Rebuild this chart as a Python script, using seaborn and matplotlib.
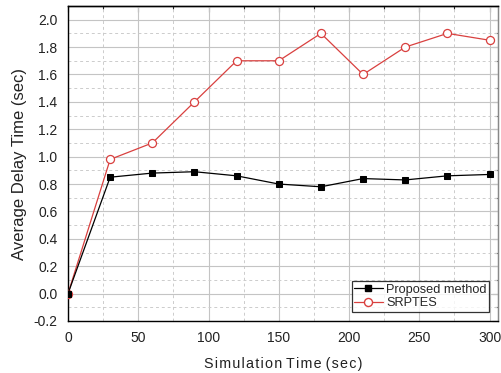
import numpy as np
import pandas as pd
import matplotlib
matplotlib.use("Agg")
import matplotlib.pyplot as plt
import seaborn as sns
from matplotlib.ticker import MultipleLocator

time_sec = [0, 30, 60, 90, 120, 150, 180, 210, 240, 270, 300]
proposed = [0.0, 0.85, 0.88, 0.89, 0.86, 0.80, 0.78, 0.84, 0.83, 0.86, 0.87]
srptes = [0.0, 0.98, 1.10, 1.40, 1.70, 1.70, 1.90, 1.60, 1.80, 1.90, 1.85]
series_names = ["Proposed method", "SRPTES"]

df = pd.concat([
    pd.DataFrame({"t": time_sec, "v": proposed, "s": series_names[0]}),
    pd.DataFrame({"t": time_sec, "v": srptes, "s": series_names[1]}),
])

sns.set_style("white")
plt.rcParams["font.family"] = ["Liberation Sans", "DejaVu Sans"]

fig = plt.figure(figsize=(5.02, 3.73), dpi=100)
ax = fig.add_axes([68/502, 1-321/373, (498-68)/502, (321-6)/373])

red = "#d9403f"
sns.lineplot(data=df, x="t", y="v", hue="s", style="s",
             palette={series_names[0]: "black", series_names[1]: red},
             markers={series_names[0]: "s", series_names[1]: "o"},
             dashes=False, linewidth=0.9, ax=ax, legend=False)
lines = ax.get_lines()
lines[0].set_markerfacecolor("black"); lines[0].set_markeredgecolor("black")
lines[0].set_markersize(4.8)
lines[1].set_markerfacecolor("white"); lines[1].set_markeredgecolor(red)
lines[1].set_markeredgewidth(0.9); lines[1].set_markersize(5.8)
lines[1].set_zorder(3); lines[0].set_zorder(4)

ax.set_xlim(0, 306)
ax.set_ylim(-0.2, 2.1)
ax.xaxis.set_major_locator(MultipleLocator(50))
ax.xaxis.set_minor_locator(MultipleLocator(25))
ax.yaxis.set_major_locator(MultipleLocator(0.2))
ax.yaxis.set_minor_locator(MultipleLocator(0.1))
ax.yaxis.set_major_formatter(matplotlib.ticker.FormatStrFormatter("%.1f"))

ax.grid(which="major", color="#c4c4c4", linestyle="-", linewidth=0.8)
ax.grid(which="minor", color="#cccccc", linestyle=(0, (3, 3)), linewidth=0.7)
ax.set_axisbelow(True)

for sp in ax.spines.values():
    sp.set_color("black"); sp.set_linewidth(1.0)
ax.spines["right"].set_color("#888888")
ax.tick_params(which="both", direction="out", color="black", width=0.8,
               labelsize=10, colors="#222222")
ax.tick_params(which="major", length=4)
ax.tick_params(which="minor", length=2.5)

ax_top = ax.secondary_xaxis("top")
ax_top.xaxis.set_major_locator(MultipleLocator(50))
ax_top.xaxis.set_minor_locator(MultipleLocator(25))
ax_top.tick_params(which="both", direction="in", labeltop=False, width=0.8)
ax_top.tick_params(which="major", length=4)
ax_top.tick_params(which="minor", length=2.5)
ax_top.spines["top"].set_linewidth(1.0)
ax_right = ax.secondary_yaxis("right")
ax_right.yaxis.set_major_locator(MultipleLocator(0.2))
ax_right.yaxis.set_minor_locator(MultipleLocator(0.1))
ax_right.tick_params(which="both", direction="in", labelright=False, width=0.8, color="#666666")
ax_right.tick_params(which="major", length=4)
ax_right.tick_params(which="minor", length=2.5)
ax_right.spines["right"].set_color("#888888")

ax.set_xlabel("S i m u l a t i o n  T i m e  ( s e c )".replace("  ", "\u2002").replace(" ", "\u200a").replace("\u2002", " "),
              fontsize=10.3, labelpad=8, color="#222222")
ax.set_ylabel("Average Delay Time (sec)", fontsize=12, labelpad=5, color="#222222")

from matplotlib.lines import Line2D
handles = [Line2D([], [], color="black", marker="s", markersize=4.8, linewidth=0.9),
           Line2D([], [], color=red, marker="o", markersize=5.8, markerfacecolor="white",
                  markeredgecolor=red, linewidth=0.9)]
leg = ax.legend(handles, series_names, loc="lower right", bbox_to_anchor=(0.98, 0.03),
                frameon=True, fancybox=False, fontsize=9.2, handlelength=2.2,
                handletextpad=0.3, borderpad=0.2, labelspacing=0.1, borderaxespad=0)
leg.get_frame().set_edgecolor("black")
leg.get_frame().set_linewidth(0.9)

fig.savefig("out.png", dpi=100)
